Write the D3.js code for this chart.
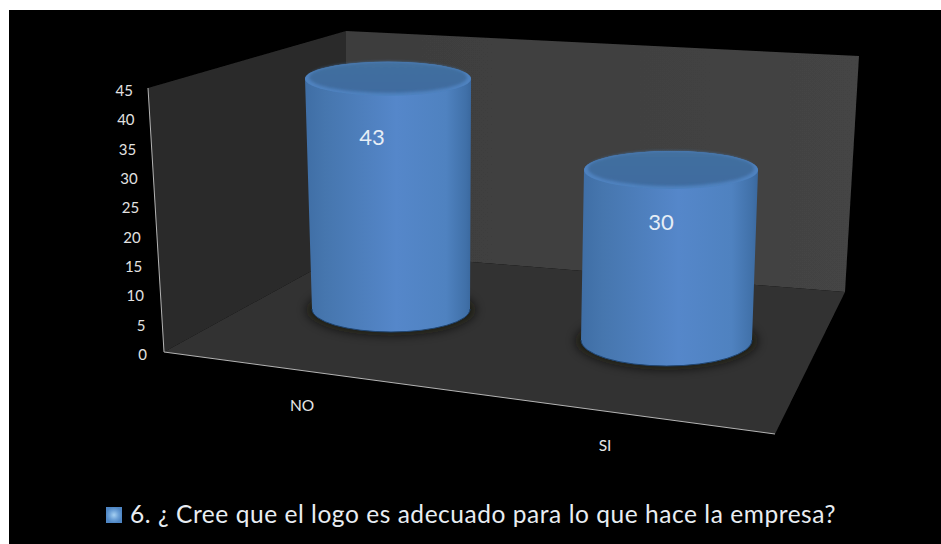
<!DOCTYPE html>
<html>
<head>
<meta charset="utf-8">
<script src="https://cdn.jsdelivr.net/npm/d3@7/dist/d3.min.js"></script>
<style>
html,body{margin:0;padding:0;background:#fff;overflow:hidden}
text{font-family:Lato,"Open Sans",sans-serif}
</style>
</head>
<body>
<svg id="chart" width="941" height="544"></svg>
<script>
// Survey answers
const categories = ["NO", "SI"];
const values = [43, 30];
const yTicks = [0, 5, 10, 15, 20, 25, 30, 35, 40, 45];
const seriesName = "6. ¿ Cree que el logo es adecuado para lo que hace la empresa?";

const svg = d3.select("#chart");
const defs = svg.append("defs");

// Side shading of a cylinder, dark at the rim and bright in the middle
const side = defs.append("linearGradient").attr("id", "side");
[[0, "#3f6ea5"], [0.12, "#4676ae"], [0.55, "#5587ca"], [0.85, "#4f82c0"], [0.97, "#4070a8"], [1, "#3a689e"]]
  .forEach(([o, c]) => side.append("stop").attr("offset", o).attr("stop-color", c));
const cap = defs.append("linearGradient").attr("id", "cap").attr("x1", 0).attr("x2", 0).attr("y1", 0).attr("y2", 1);
[[0, "#426f9f"], [1, "#3e6b9f"]].forEach(([o, c]) => cap.append("stop").attr("offset", o).attr("stop-color", c));
const wall = defs.append("linearGradient").attr("id", "wall");
[[0, "#3d3d3d"], [1, "#444444"]].forEach(([o, c]) => wall.append("stop").attr("offset", o).attr("stop-color", c));
const swatch = defs.append("radialGradient").attr("id", "swatch");
[[0, "#a5d0f2"], [0.6, "#6a9fd6"], [1, "#4f86c4"]].forEach(([o, c]) => swatch.append("stop").attr("offset", o).attr("stop-color", c));
defs.append("filter").attr("id", "soft").attr("x", "-30%").attr("y", "-60%").attr("width", "160%").attr("height", "220%")
  .append("feGaussianBlur").attr("stdDeviation", 5);
defs.append("filter").attr("id", "slight").append("feGaussianBlur").attr("stdDeviation", 0.35);
defs.append("filter").attr("id", "bevel").attr("x", "-10%").attr("y", "-30%").attr("width", "120%").attr("height", "160%")
  .append("feGaussianBlur").attr("stdDeviation", 1.6);

// Page background
svg.append("rect").attr("x", 9).attr("y", 10).attr("width", 932).attr("height", 534).attr("fill", "#000");

// Box corners of the 3D plot
const frontLeft = [164, 352], frontRight = [775, 434], backRight = [845, 292], backLeft = [346, 252];
const axisTop = [148, 88], backLeftTop = [346, 31], backRightTop = [859, 56];
const poly = pts => "M" + pts.map(p => p.join(",")).join("L") + "Z";

const box = svg.append("g").attr("filter", "url(#slight)");
box.append("path").attr("d", poly([backLeftTop, backRightTop, backRight, backLeft])).attr("fill", "url(#wall)");
box.append("path").attr("d", poly([axisTop, backLeftTop, backLeft, frontLeft])).attr("fill", "#2b2b2b");
box.append("path").attr("d", poly([frontLeft, backLeft, backRight, frontRight])).attr("fill", "#333333");
// Bright edges of the value axis and the category axis
box.append("path").attr("d", `M${axisTop}L${frontLeft}L${frontRight}`)
  .attr("fill", "none").attr("stroke", "#b4b4b4").attr("stroke-width", 1);

// Value axis labels run along the slanted left edge
const tickY = d3.scaleLinear().domain([0, 45]).range([354, 90]);
const tickX = d3.scaleLinear().domain([0, 45]).range([147, 133]);
svg.append("g").selectAll("text").data(yTicks).join("text")
  .attr("x", d => tickX(d)).attr("y", d => tickY(d))
  .attr("text-anchor", "end").attr("dominant-baseline", "central")
  .attr("font-size", 15).attr("fill", "#e2e2e2").text(d => d);

// Each cylinder stands at its own depth, so each has its own scales along the height
const geometry = [
  { y: [309, 68], cx: [391, 387.9], rx: [79, 83.2], ry: [23, 16.7], label: [-16, 58] },
  { y: [340, 85], cx: [666.5, 673.3], rx: [85.5, 87.8], ry: [26, 15.5], label: [-10, 51] }
];
const scaled = geometry.map(g => ({
  y: d3.scaleLinear().domain([0, 45]).range(g.y),
  cx: d3.scaleLinear().domain([0, 45]).range(g.cx),
  rx: d3.scaleLinear().domain([0, 45]).range(g.rx),
  ry: d3.scaleLinear().domain([0, 45]).range(g.ry),
  label: g.label
}));

const bars = svg.append("g").selectAll("g").data(values).join("g");
bars.each(function (v, i) {
  const s = scaled[i], g = d3.select(this);
  const bx = s.cx(0), by = s.y(0), brx = s.rx(0), bry = s.ry(0);
  const tx = s.cx(v), ty = s.y(v), trx = s.rx(v), tryy = s.ry(v);
  // Contact shadow on the floor
  g.append("ellipse").attr("cx", bx).attr("cy", by + 1).attr("rx", brx + 6).attr("ry", bry + 3)
    .attr("fill", "#0a0806").attr("opacity", 0.6).attr("filter", "url(#soft)");
  // Cylinder body
  g.append("path")
    .attr("d", `M${tx - trx},${ty}L${bx - brx},${by}A${brx},${bry} 0 0 0 ${bx + brx},${by}L${tx + trx},${ty}A${trx},${tryy} 0 0 0 ${tx - trx},${ty}Z`)
    .attr("fill", "url(#side)");
  // Dark rim along the base
  g.append("path")
    .attr("d", `M${bx - brx},${by}A${brx},${bry} 0 0 0 ${bx + brx},${by}`)
    .attr("fill", "none").attr("stroke", "#1f4470").attr("stroke-width", 1);
  // Top cap with a soft lighter bevel along its lower edge
  g.append("ellipse").attr("cx", tx).attr("cy", ty).attr("rx", trx).attr("ry", tryy).attr("fill", "#4f82bf");
  g.append("ellipse").attr("cx", tx).attr("cy", ty - 1.5).attr("rx", trx - 4).attr("ry", tryy - 1.5)
    .attr("fill", "url(#cap)").attr("filter", "url(#bevel)");
  // Value label
  g.append("text").attr("x", tx + s.label[0]).attr("y", ty + s.label[1])
    .attr("text-anchor", "middle").attr("dominant-baseline", "central")
    .attr("font-size", 22).attr("fill", "#e6eef6").text(v);
});

// Category labels under the front edge
const catX = d3.scalePoint().domain(categories).range([302, 605]);
const catY = d3.scalePoint().domain(categories).range([405, 445]);
svg.append("g").selectAll("text").data(categories).join("text")
  .attr("x", d => catX(d)).attr("y", d => catY(d))
  .attr("text-anchor", "middle").attr("dominant-baseline", "central")
  .attr("font-size", 15.5).attr("fill", "#e6e6e6").text(d => d);

// Legend
svg.append("rect").attr("x", 106).attr("y", 507).attr("width", 16).attr("height", 16).attr("fill", "url(#swatch)");
svg.append("text").attr("x", 130).attr("y", 523)
  .attr("font-size", 24.5).attr("letter-spacing", 0.55).attr("fill", "#e8edf2").text(seriesName);
</script>
</body>
</html>
